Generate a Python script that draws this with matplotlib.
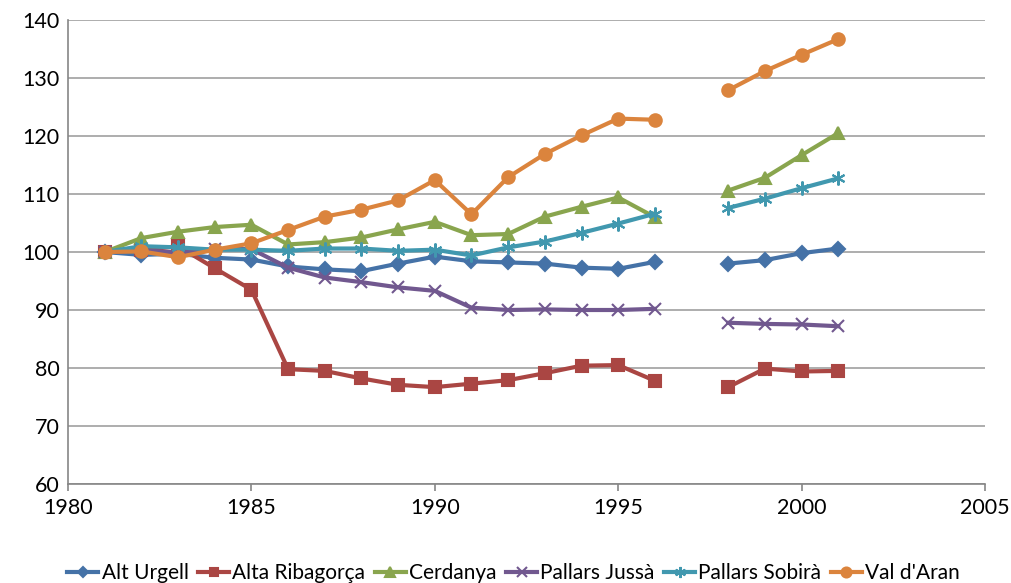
import numpy as np
import matplotlib
matplotlib.use("Agg")
import matplotlib.pyplot as plt

years = [1981, 1982, 1983, 1984, 1985, 1986, 1987, 1988, 1989, 1990, 1991, 1992,
         1993, 1994, 1995, 1996, 1997, 1998, 1999, 2000, 2001]
nan = np.nan
alt_urgell = [100, 99.5, 99.7, 99.0, 98.7, 97.5, 97.0, 96.7, 98.0, 99.2, 98.4, 98.2,
              98.0, 97.3, 97.1, 98.3, nan, 98.0, 98.6, 99.8, 100.6]
alta_ribagorca = [100, 100.3, 101.0, 97.2, 93.5, 79.8, 79.5, 78.2, 77.1, 76.7, 77.3, 77.9,
                  79.1, 80.4, 80.5, 77.8, nan, 76.7, 79.9, 79.4, 79.5]
cerdanya = [100, 102.4, 103.5, 104.3, 104.7, 101.3, 101.7, 102.5, 103.9, 105.2, 102.9, 103.1,
            106.1, 107.8, 109.4, 106.0, nan, 110.6, 112.8, 116.7, 120.5]
pallars_jussa = [100, 100.3, 99.9, 100.5, 100.5, 97.3, 95.6, 94.8, 93.9, 93.3, 90.4, 90.0,
                 90.1, 90.0, 90.0, 90.2, nan, 87.8, 87.6, 87.5, 87.2]
pallars_sobira = [100, 101.0, 100.8, 100.4, 100.4, 100.2, 100.6, 100.6, 100.2, 100.4, 99.4, 100.8,
                  101.8, 103.3, 104.9, 106.6, nan, 107.6, 109.2, 111.0, 112.7]
val_daran = [100, 100.1, 99.1, 100.4, 101.5, 103.8, 106.1, 107.3, 108.9, 112.4, 106.5, 112.9,
             116.9, 120.1, 123.0, 122.8, nan, 127.9, 131.2, 134.0, 136.7]

series = [
    ("Alt Urgell", alt_urgell, "#4572A7", "D", 7),
    ("Alta Ribagorça", alta_ribagorca, "#AA4643", "s", 8),
    ("Cerdanya", cerdanya, "#89A54E", "^", 9),
    ("Pallars Jussà", pallars_jussa, "#71588F", "x", 9),
    ("Pallars Sobirà", pallars_sobira, "#4198AF", (6, 2, 0), 10),
    ("Val d'Aran", val_daran, "#DB843D", "o", 9),
]

plt.rcParams['font.family'] = ['Lato', 'DejaVu Sans']

fig = plt.figure(figsize=(10.11, 5.83), dpi=100)
ax = fig.add_axes([68/1011, 1-484/583, (985-68)/1011, (484-20)/583])

for name, vals, col, mk, ms in series:
    ax.plot(years, vals, color=col, lw=3, marker=mk, markersize=ms,
            markeredgecolor=col, markerfacecolor=col, markeredgewidth=1.5, label=name)

ax.set_xlim(1980, 2005)
ax.set_ylim(60, 140)
ax.set_xticks([1980, 1985, 1990, 1995, 2000, 2005])
ax.set_yticks(range(60, 141, 10))
ax.yaxis.grid(True, color="#A0A0A0", lw=1.2)
ax.set_axisbelow(True)
for s in ["top", "right"]:
    ax.spines[s].set_visible(False)
for s in ["left", "bottom"]:
    ax.spines[s].set_color("#868686")
    ax.spines[s].set_linewidth(1.2)
ax.tick_params(axis="both", labelsize=15.5, colors="#868686", labelcolor="black", length=5, width=1.2)
ax.tick_params(axis="y", length=0, pad=6)
ax.tick_params(axis="x", pad=5)

leg = fig.legend(loc="lower center", bbox_to_anchor=(0.508, -0.014), ncol=6, frameon=False,
                 fontsize=15, handlelength=1.5, handletextpad=0.15, columnspacing=0.45,
                 borderaxespad=0, markerscale=0.8)

fig.savefig("out.png", dpi=100)
